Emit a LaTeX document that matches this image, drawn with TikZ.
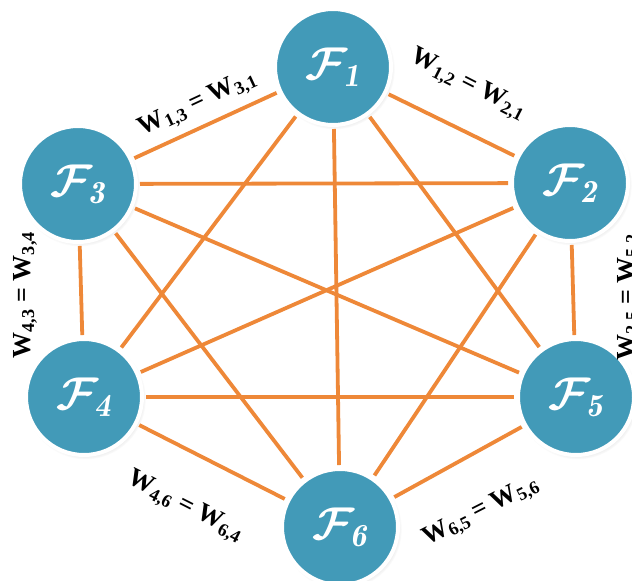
\documentclass[tikz,border=0pt]{standalone}
\usepackage{fix-cm}
\usepackage{fontspec}
\newfontfamily\wfont{Liberation Serif}
\usetikzlibrary{shadows}

\definecolor{factorblue}{RGB}{66,154,184}
\definecolor{linkorange}{RGB}{238,136,56}

\tikzset{
  factor/.style={circle, fill=factorblue, draw=white, line width=4pt,
    minimum size=116pt, inner sep=0pt, outer sep=4pt, text=white,
    font=\fontsize{46}{46}\selectfont\boldmath,
    circular drop shadow={shadow scale=1.04, shadow xshift=1.5pt,
      shadow yshift=-2pt, opacity=0.3}},
  link/.style={linkorange, line width=3.8pt},
  weight/.style={font=\wfont\bfseries\fontsize{26}{26}\selectfont, inner sep=0pt}
}

\begin{document}
\begin{tikzpicture}[x=1pt,y=-1pt]
    \useasboundingbox (0,0) rectangle (632,581);

    % Draw factor nodes
    \node[factor] (f1) at (333,67) {$\mathcal{F}_{\mathit{1}}$};
    \node[factor] (f2) at (570,183) {$\mathcal{F}_{\mathit{2}}$};
    \node[factor] (f3) at (78,184) {$\mathcal{F}_{\mathit{3}}$};
    \node[factor] (f4) at (84,397) {$\mathcal{F}_{\mathit{4}}$};
    \node[factor] (f5) at (576,397) {$\mathcal{F}_{\mathit{5}}$};
    \node[factor] (f6) at (340,527) {$\mathcal{F}_{\mathit{6}}$};

    % Draw links between every pair
    \foreach \a/\b in {f1/f2,f1/f3,f1/f4,f1/f5,f1/f6,f2/f3,f2/f4,f2/f5,
                       f2/f6,f3/f4,f3/f5,f3/f6,f4/f5,f4/f6,f5/f6}
        \draw[link] (\a) -- (\b);

    % Label the outer links
    \node[weight, rotate=-27] (w12) at (468,85) {W\textsubscript{1,2} = W\textsubscript{2,1}};
    \node[weight, rotate=25] (w13) at (198,104) {W\textsubscript{1,3} = W\textsubscript{3,1}};
    \node[weight, rotate=90, anchor=north] (w34) at (13,295) {W\textsubscript{4,3} = W\textsubscript{3,4}};
    \node[weight, rotate=90, anchor=north] (w25) at (617,297) {W\textsubscript{2,5} = W\textsubscript{5,2}};
    \node[weight, rotate=-27] (w46) at (185,507) {W\textsubscript{4,6} = W\textsubscript{6,4}};
    \node[weight, rotate=27] (w56) at (481,512) {W\textsubscript{6,5} = W\textsubscript{5,6}};
\end{tikzpicture}
\end{document}
